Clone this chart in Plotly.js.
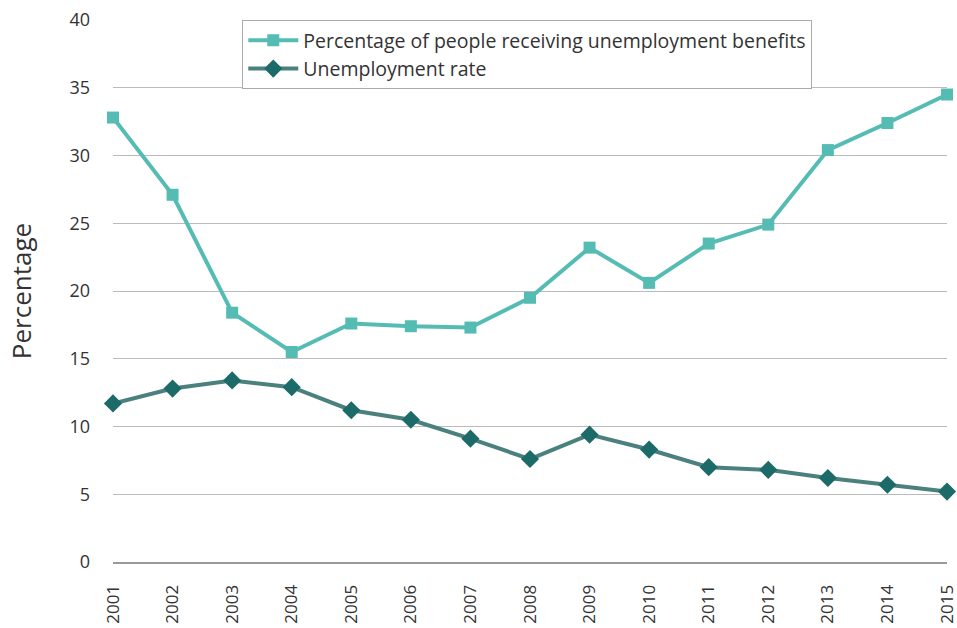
<!DOCTYPE html>
<html><head><meta charset="utf-8">
<script src="https://cdn.plot.ly/plotly-3.0.1.min.js"></script>
<style>html,body{margin:0;padding:0;background:#fff}#chart{width:957px;height:628px}</style>
</head><body><div id="chart"></div>
<script>
const years = [2001,2002,2003,2004,2005,2006,2007,2008,2009,2010,2011,2012,2013,2014,2015];
const benefits = [32.8,27.1,18.4,15.5,17.6,17.4,17.3,19.5,23.2,20.6,23.5,24.9,30.4,32.4,34.5];
const unemployment = [11.7,12.8,13.4,12.9,11.2,10.5,9.1,7.6,9.4,8.3,7.0,6.8,6.2,5.7,5.2];
const yTicks = [0,5,10,15,20,25,30,35,40];

const traces = [
  {x: years, y: benefits, type:'scatter', mode:'lines+markers', name:'Percentage of people receiving unemployment benefits',
   line:{color:'#55bcb4', width:4}, marker:{symbol:'square', size:12, color:'#55bcb4'}, cliponaxis:false},
  {x: years, y: unemployment, type:'scatter', mode:'lines+markers', name:'Unemployment rate',
   line:{color:'#4a807e', width:4}, marker:{symbol:'diamond', size:14, color:'#1d6b69'}, cliponaxis:false}
];
const layout = {
  width:957, height:628,
  margin:{l:113, r:10, t:20, b:66},
  paper_bgcolor:'#fff', plot_bgcolor:'#fff',
  font:{family:'Open Sans, sans-serif', color:'#333'},
  showlegend:true,
  legend:{x:0.155, y:1, xanchor:'left', yanchor:'top', bordercolor:'#aaa', borderwidth:1, bgcolor:'#fff',
    font:{size:19.5, color:'#333'}, tracegroupgap:0, itemwidth:50},
  xaxis:{range:[2001,2015], tickvals:years, ticktext:years.map(String), tickangle:-90,
    showgrid:false, zeroline:false, showline:true, linecolor:'#999', linewidth:2,
    tickfont:{size:17, color:'#333'}, ticks:'', ticklabelstandoff:14, ticklabeloverflow:'allow', fixedrange:true},
  yaxis:{range:[0,40], tickvals:yTicks, showgrid:true, gridcolor:'#bbb', gridwidth:1, zeroline:false,
    showline:false, tickfont:{size:18, color:'#333'}, ticks:'', ticklabelstandoff:22,
    title:{text:'Percentage', font:{size:26, color:'#333'}, standoff:30}}
};
Plotly.newPlot('chart', traces, layout, {displayModeBar:false, staticPlot:true});
</script></body></html>
